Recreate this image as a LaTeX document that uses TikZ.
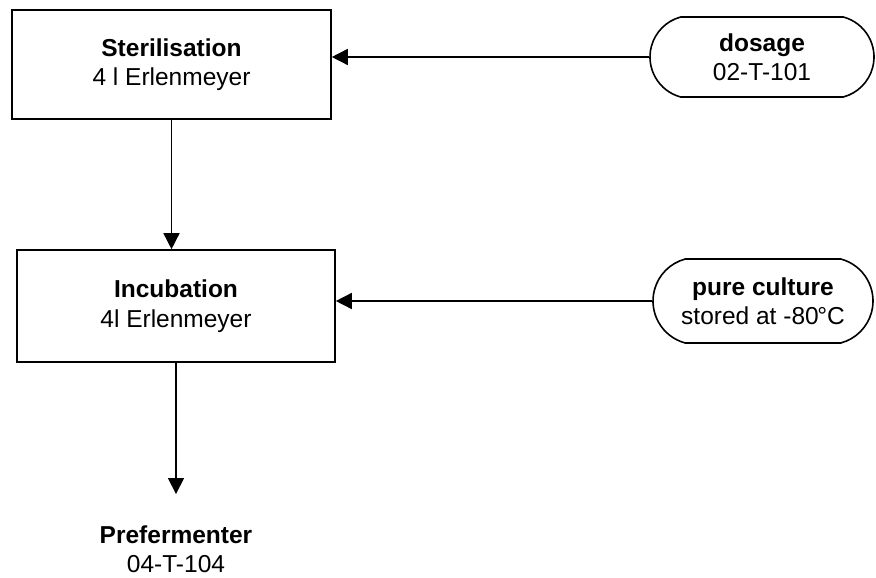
\documentclass[tikz,border=0pt]{standalone}
\usepackage{fontspec}
\setmainfont{Liberation Sans}
\usetikzlibrary{arrows.meta,shapes.misc}

\begin{document}
\begin{tikzpicture}[x=1pt,y=-1pt,
  every node/.style={font=\fontsize{24.5}{29.5}\selectfont, align=center, inner sep=0pt},
  stepbox/.style={draw, line width=1.6pt, rectangle},
  source/.style={draw, line width=1.6pt, rounded rectangle,
    rounded rectangle arc length=150},
  flow/.style={line width=1.5pt, -{Triangle[length=16pt,width=16pt]}}
]
\useasboundingbox (0,0) rectangle (876,578);

% process steps
\node[stepbox, minimum width=319pt, minimum height=109pt] (ster) at (171.5,64.5)
  {\textbf{Sterilisation}\\4 l Erlenmeyer};
\node[stepbox, minimum width=318pt, minimum height=112pt] (incub) at (176,306)
  {\textbf{Incubation}\\4l Erlenmeyer};

% material sources
\node[source, minimum width=224pt, minimum height=80pt] (dosage) at (762,57)
  {\textbf{dosage}\\02-T-101};
\node[source, minimum width=220pt, minimum height=84pt] (pure) at (763,301)
  {\textbf{pure culture}\\stored at -80\kern-1.5pt°C};

% destination
\node (pref) at (176,549) {\textbf{Prefermenter}\\04-T-104};

% connectors
\draw[flow] (dosage.west) -- (dosage.west -| ster.east);
\draw[flow] (pure.west) -- (pure.west -| incub.east);
\draw[flow] (ster.south) -- (ster.south |- incub.north);
\draw[flow, shorten >=31pt] (incub.south) -- (pref.north);
\end{tikzpicture}
\end{document}
